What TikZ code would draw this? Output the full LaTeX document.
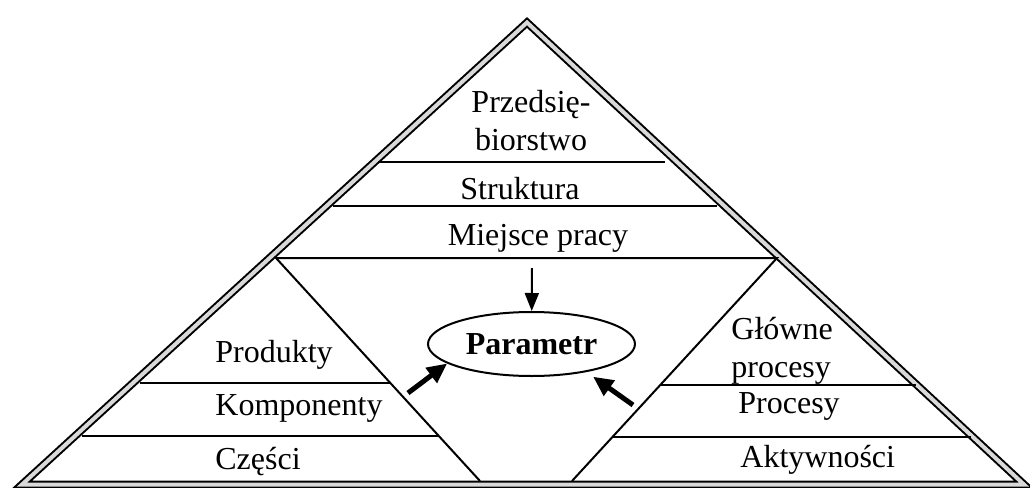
\documentclass[tikz,border=0pt]{standalone}
\usepackage{fontspec}
\setmainfont{Liberation Serif}
\usetikzlibrary{arrows.meta,shapes.geometric}

\begin{document}
\begin{tikzpicture}[x=0.5pt,y=-0.5pt,>={Triangle[length=9pt,width=7pt]},
    every node/.style={inner sep=0pt,font=\fontsize{16}{19}\selectfont},
    layer/.style={line width=1pt},
    fat/.style={line width=2.5pt,-{Triangle[length=10pt,width=9pt]}}]
  \useasboundingbox (0,0) rectangle (1030,488);
  \coordinate (A) at (527,22.5);
  \coordinate (L) at (22,484.5);
  \coordinate (R) at (1024,484.5);
  \draw[line width=1pt,double=gray!30,double distance=2pt] (A) -- (L) -- (R) -- cycle;

  \coordinate (ml) at (276,258);
  \coordinate (mr) at (777,258);
  \coordinate (bl) at (480,481);
  \coordinate (br) at (572,481);
  \draw[layer] (bl) -- (ml) -- (mr) -- (br);

  \draw[layer] (378,162) -- (665,162);
  \draw[layer] (333,206) -- (717,206);
  \draw[layer] (140,383) -- (390,383);
  \draw[layer] (82,436) -- (438,436);
  \draw[layer] (660,385) -- (916,385);
  \draw[layer] (613,437) -- (971,437);

  \node[anchor=base,align=center] (przed) at (531,150) {Przedsię-\\biorstwo};
  \node[anchor=base] (strukt) at (520,199) {Struktura};
  \node[anchor=base] (miejsce) at (538,245) {Miejsce pracy};
  \node[anchor=base west] (prod) at (215,362) {Produkty};
  \node[anchor=base west] (komp) at (215,415) {Komponenty};
  \node[anchor=base west] (czesci) at (215,469) {Części};
  \node[anchor=base west,align=left] (glowne) at (731,377) {Główne\\procesy};
  \node[anchor=base west] (proc) at (738,413) {Procesy};
  \node[anchor=base west] (aktyw) at (740,467) {Aktywności};

  \node[ellipse,draw,line width=1pt,minimum width=103.5pt,minimum height=32pt,
    font=\fontsize{16}{19}\selectfont\bfseries] (param) at (531.5,344) {Parametr};
  \coordinate (top) at (532,268);
  \draw[layer,->] (top) -- (param);
  \coordinate (lt) at (408,393);
  \coordinate (rt) at (633,405);
  \draw[fat] (lt) -- (param.193);
  \draw[fat,shorten >=4pt] (rt) -- (param.333);
\end{tikzpicture}
\end{document}
